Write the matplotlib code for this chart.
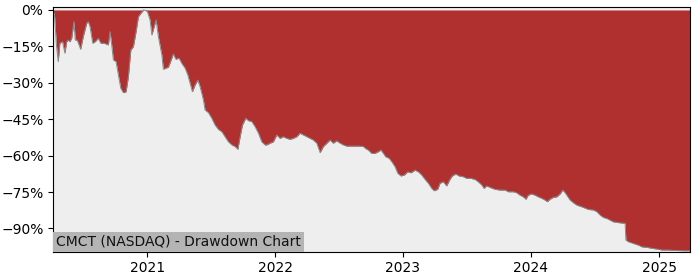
import datetime as dt
import matplotlib
matplotlib.use("Agg")
import matplotlib.pyplot as plt
import matplotlib.dates as mdates
from matplotlib.ticker import PercentFormatter

# Time as decimal years, drawdown in percent
years = [
    2020.268, 2020.279, 2020.293, 2020.307, 2020.320, 2020.341, 2020.359, 2020.373,
    2020.385, 2020.398, 2020.412, 2020.430, 2020.440, 2020.455, 2020.482, 2020.502,
    2020.529, 2020.541, 2020.555, 2020.576, 2020.594, 2020.620, 2020.638, 2020.664,
    2020.698, 2020.711, 2020.724, 2020.737, 2020.758, 2020.776, 2020.795, 2020.815,
    2020.836, 2020.854, 2020.873, 2020.893, 2020.914, 2020.932, 2020.951, 2020.973,
    2020.988, 2021.002, 2021.023, 2021.037, 2021.055, 2021.070, 2021.088, 2021.115,
    2021.127, 2021.166, 2021.188, 2021.205, 2021.224, 2021.250, 2021.271, 2021.297,
    2021.318, 2021.336, 2021.354, 2021.375, 2021.396, 2021.414, 2021.440, 2021.453,
    2021.479, 2021.505, 2021.531, 2021.557, 2021.584, 2021.609, 2021.635, 2021.662,
    2021.688, 2021.709, 2021.727, 2021.745, 2021.771, 2021.791, 2021.818, 2021.844,
    2021.870, 2021.896, 2021.922, 2021.935, 2021.961, 2021.987, 2022.013, 2022.039,
    2022.065, 2022.091, 2022.117, 2022.143, 2022.170, 2022.195, 2022.221, 2022.248,
    2022.273, 2022.299, 2022.326, 2022.352, 2022.377, 2022.404, 2022.430, 2022.455,
    2022.482, 2022.508, 2022.534, 2022.560, 2022.612, 2022.664, 2022.690, 2022.716,
    2022.729, 2022.755, 2022.781, 2022.807, 2022.828, 2022.846, 2022.865, 2022.891,
    2022.912, 2022.938, 2022.959, 2022.984, 2023.010, 2023.037, 2023.063, 2023.094,
    2023.120, 2023.146, 2023.172, 2023.198, 2023.224, 2023.244, 2023.271, 2023.289,
    2023.315, 2023.341, 2023.367, 2023.385, 2023.412, 2023.438, 2023.471, 2023.498,
    2023.531, 2023.562, 2023.588, 2023.615, 2023.633, 2023.654, 2023.680, 2023.719,
    2023.758, 2023.797, 2023.823, 2023.862, 2023.888, 2023.914, 2023.940, 2023.961,
    2023.979, 2024.005, 2024.031, 2024.057, 2024.084, 2024.109, 2024.127, 2024.148,
    2024.174, 2024.201, 2024.227, 2024.248, 2024.266, 2024.284, 2024.305, 2024.330,
    2024.357, 2024.396, 2024.448, 2024.487, 2024.513, 2024.539, 2024.565, 2024.591,
    2024.617, 2024.643, 2024.695, 2024.734, 2024.740, 2024.760, 2024.799, 2024.838,
    2024.865, 2024.904, 2024.943, 2024.982, 2025.021, 2025.073, 2025.125, 2025.203,
    2025.242,
]
drawdown = [
    0.0, -2.8, -14.4, -21.3, -13.7, -13.1, -17.8, -13.1,
    -12.4, -13.1, -11.7, -4.8, -12.4, -12.4, -16.2, -11.0,
    -5.5, -4.8, -6.9, -13.7, -13.1, -11.7, -13.7, -13.7,
    -14.4, -8.9, -14.4, -20.6, -21.3, -26.8, -32.3, -34.1,
    -33.7, -27.5, -16.5, -15.1, -8.9, -2.8, -1.4, 0.0,
    -0.2, -0.7, -4.1, -10.3, -6.9, -4.1, -11.0, -18.5,
    -24.4, -23.6, -20.6, -18.1, -20.3, -19.9, -22.0, -24.0,
    -26.8, -30.2, -33.7, -30.9, -28.9, -31.6, -37.1, -41.2,
    -42.3, -44.6, -47.4, -49.2, -50.2, -52.2, -54.3, -55.6,
    -56.3, -57.4, -52.2, -47.4, -44.6, -45.6, -46.0, -48.1,
    -50.8, -54.3, -55.6, -55.6, -54.9, -54.3, -51.5, -52.9,
    -52.2, -52.9, -53.3, -52.9, -52.2, -50.8, -51.5, -52.2,
    -52.9, -53.6, -54.9, -58.8, -56.3, -54.9, -53.6, -54.9,
    -53.9, -54.9, -55.6, -56.1, -56.1, -56.1, -56.3, -57.4,
    -57.7, -59.1, -59.1, -58.4, -57.7, -59.1, -60.5, -61.1,
    -62.5, -64.6, -67.3, -68.4, -68.0, -66.7, -67.1, -66.0,
    -66.7, -68.0, -69.8, -71.4, -73.5, -74.5, -73.9, -71.4,
    -70.8, -72.5, -69.8, -68.4, -67.6, -68.4, -68.7, -69.4,
    -69.4, -69.8, -70.8, -72.1, -73.5, -72.5, -73.1, -73.9,
    -74.2, -74.2, -74.9, -74.9, -75.3, -76.3, -77.0, -78.0,
    -76.3, -75.8, -76.3, -77.0, -77.6, -78.3, -79.0, -78.0,
    -77.2, -77.0, -75.8, -74.2, -75.3, -76.7, -78.3, -79.4,
    -80.4, -81.1, -82.2, -82.4, -83.1, -84.5, -85.5, -85.9,
    -86.6, -87.3, -87.7, -87.9, -94.8, -95.5, -96.2, -96.9,
    -97.6, -97.8, -98.2, -98.5, -98.9, -98.9, -99.1, -99.2,
    -99.2,
]
title_text = "CMCT (NASDAQ) - Drawdown Chart"


def to_date(y):
    yr = int(y)
    start = dt.datetime(yr, 1, 1)
    end = dt.datetime(yr + 1, 1, 1)
    return start + (end - start) * (y - yr)


dates = [to_date(y) for y in years]

fig = plt.figure(figsize=(7, 2.8), dpi=100)
ax = fig.add_axes([0.076, 0.101, 0.910, 0.873])
ax.set_facecolor("#eeeeee")

ax.fill_between(dates, drawdown, 0, color="#b03030", linewidth=0)
ax.plot(dates, drawdown, color="#8a8a8a", linewidth=0.7)

ax.set_xlim(dates[0], dates[-1])
ax.set_ylim(-99.6, 1.1)
ax.set_yticks([0, -15, -30, -45, -60, -75, -90])
ax.yaxis.set_major_formatter(PercentFormatter(decimals=0))
ax.xaxis.set_major_locator(mdates.YearLocator())
ax.xaxis.set_major_formatter(mdates.DateFormatter("%Y"))
ax.tick_params(labelsize=10)

ax.text(0.0045, 0.012, title_text, transform=ax.transAxes, fontsize=10,
        ha="left", va="bottom", color="#111111",
        bbox=dict(boxstyle="square,pad=0.2", facecolor="#b4b4b4", edgecolor="none"))

fig.savefig("out.png", dpi=100)
